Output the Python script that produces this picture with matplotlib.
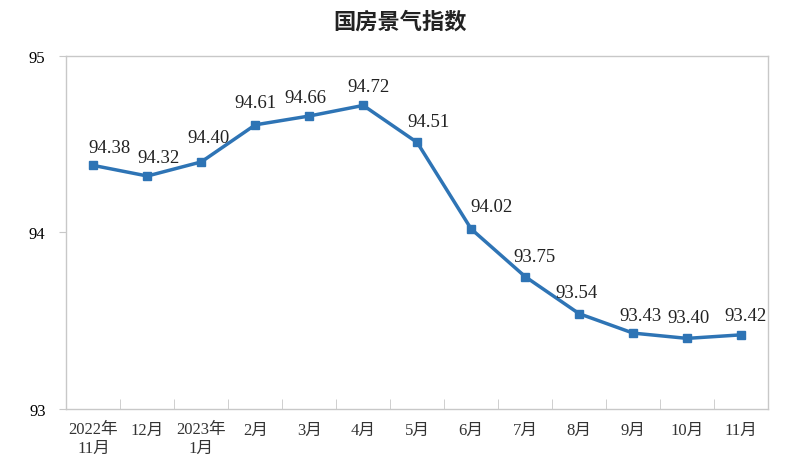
import matplotlib
matplotlib.use("Agg")
import matplotlib.pyplot as plt
import numpy as np

# data
months = ['2022年\n11月', '12月', '2023年\n1月', '2月', '3月', '4月', '5月',
          '6月', '7月', '8月', '9月', '10月', '11月']
index_values = [94.38, 94.32, 94.40, 94.61, 94.66, 94.72, 94.51,
                94.02, 93.75, 93.54, 93.43, 93.40, 93.42]
y_ticks = [93, 94, 95]

# label placement (pixel offsets from each point), as in the original
label_dx = [16, 11, 7, 0, -4, 5, 11, 20, 9, -3, 7, 1, 4]
label_dy = [18, 19, 24, 22, 19, 19, 21, 22, 20, 21, 18, 21, 19]

FONT = ['Liberation Serif', 'Noto Sans CJK SC']
LINE_COLOR = '#2e74b5'
EDGE_COLOR = '#c8c8c8'

fig = plt.figure(figsize=(8, 4.77), dpi=100)
ax = fig.add_axes([0.083, 0.1405, 0.877, 0.74])

x = np.arange(len(months))
ax.plot(x, index_values, color=LINE_COLOR, linewidth=2.5,
        marker='s', markersize=5.5, markerfacecolor=LINE_COLOR,
        markeredgecolor=LINE_COLOR)

for xi, v, dx, dy in zip(x, index_values, label_dx, label_dy):
    ax.annotate(f'{v:.2f}', (xi, v), xytext=(dx, dy), textcoords='offset pixels',
                ha='center', va='center', fontsize=13.5, family=FONT,
                color='#222222')

ax.set_xlim(-0.5, len(months) - 0.5)
ax.set_ylim(93, 95)
ax.set_yticks(y_ticks)
ax.set_yticklabels([str(t) for t in y_ticks], family=FONT, fontsize=12)

ax.set_xticks(x)
ax.set_xticklabels(months, family=FONT, fontsize=12, color='#333333',
                   linespacing=1.2)
ax.set_xticks(np.arange(0.5, len(months) - 0.5), minor=True)
ax.tick_params(axis='x', which='major', length=0, pad=9)
ax.tick_params(axis='x', which='minor', direction='in', length=7,
               color=EDGE_COLOR)
ax.tick_params(axis='y', length=5, color=EDGE_COLOR, pad=10)

for s in ax.spines.values():
    s.set_color(EDGE_COLOR)
    s.set_linewidth(1.0)

fig.suptitle('国房景气指数', x=0.5, y=0.978, fontsize=16, fontweight='bold',
             family=['Noto Sans CJK SC', 'DejaVu Sans'], color='#222222')

fig.savefig('out.png', dpi=100)
